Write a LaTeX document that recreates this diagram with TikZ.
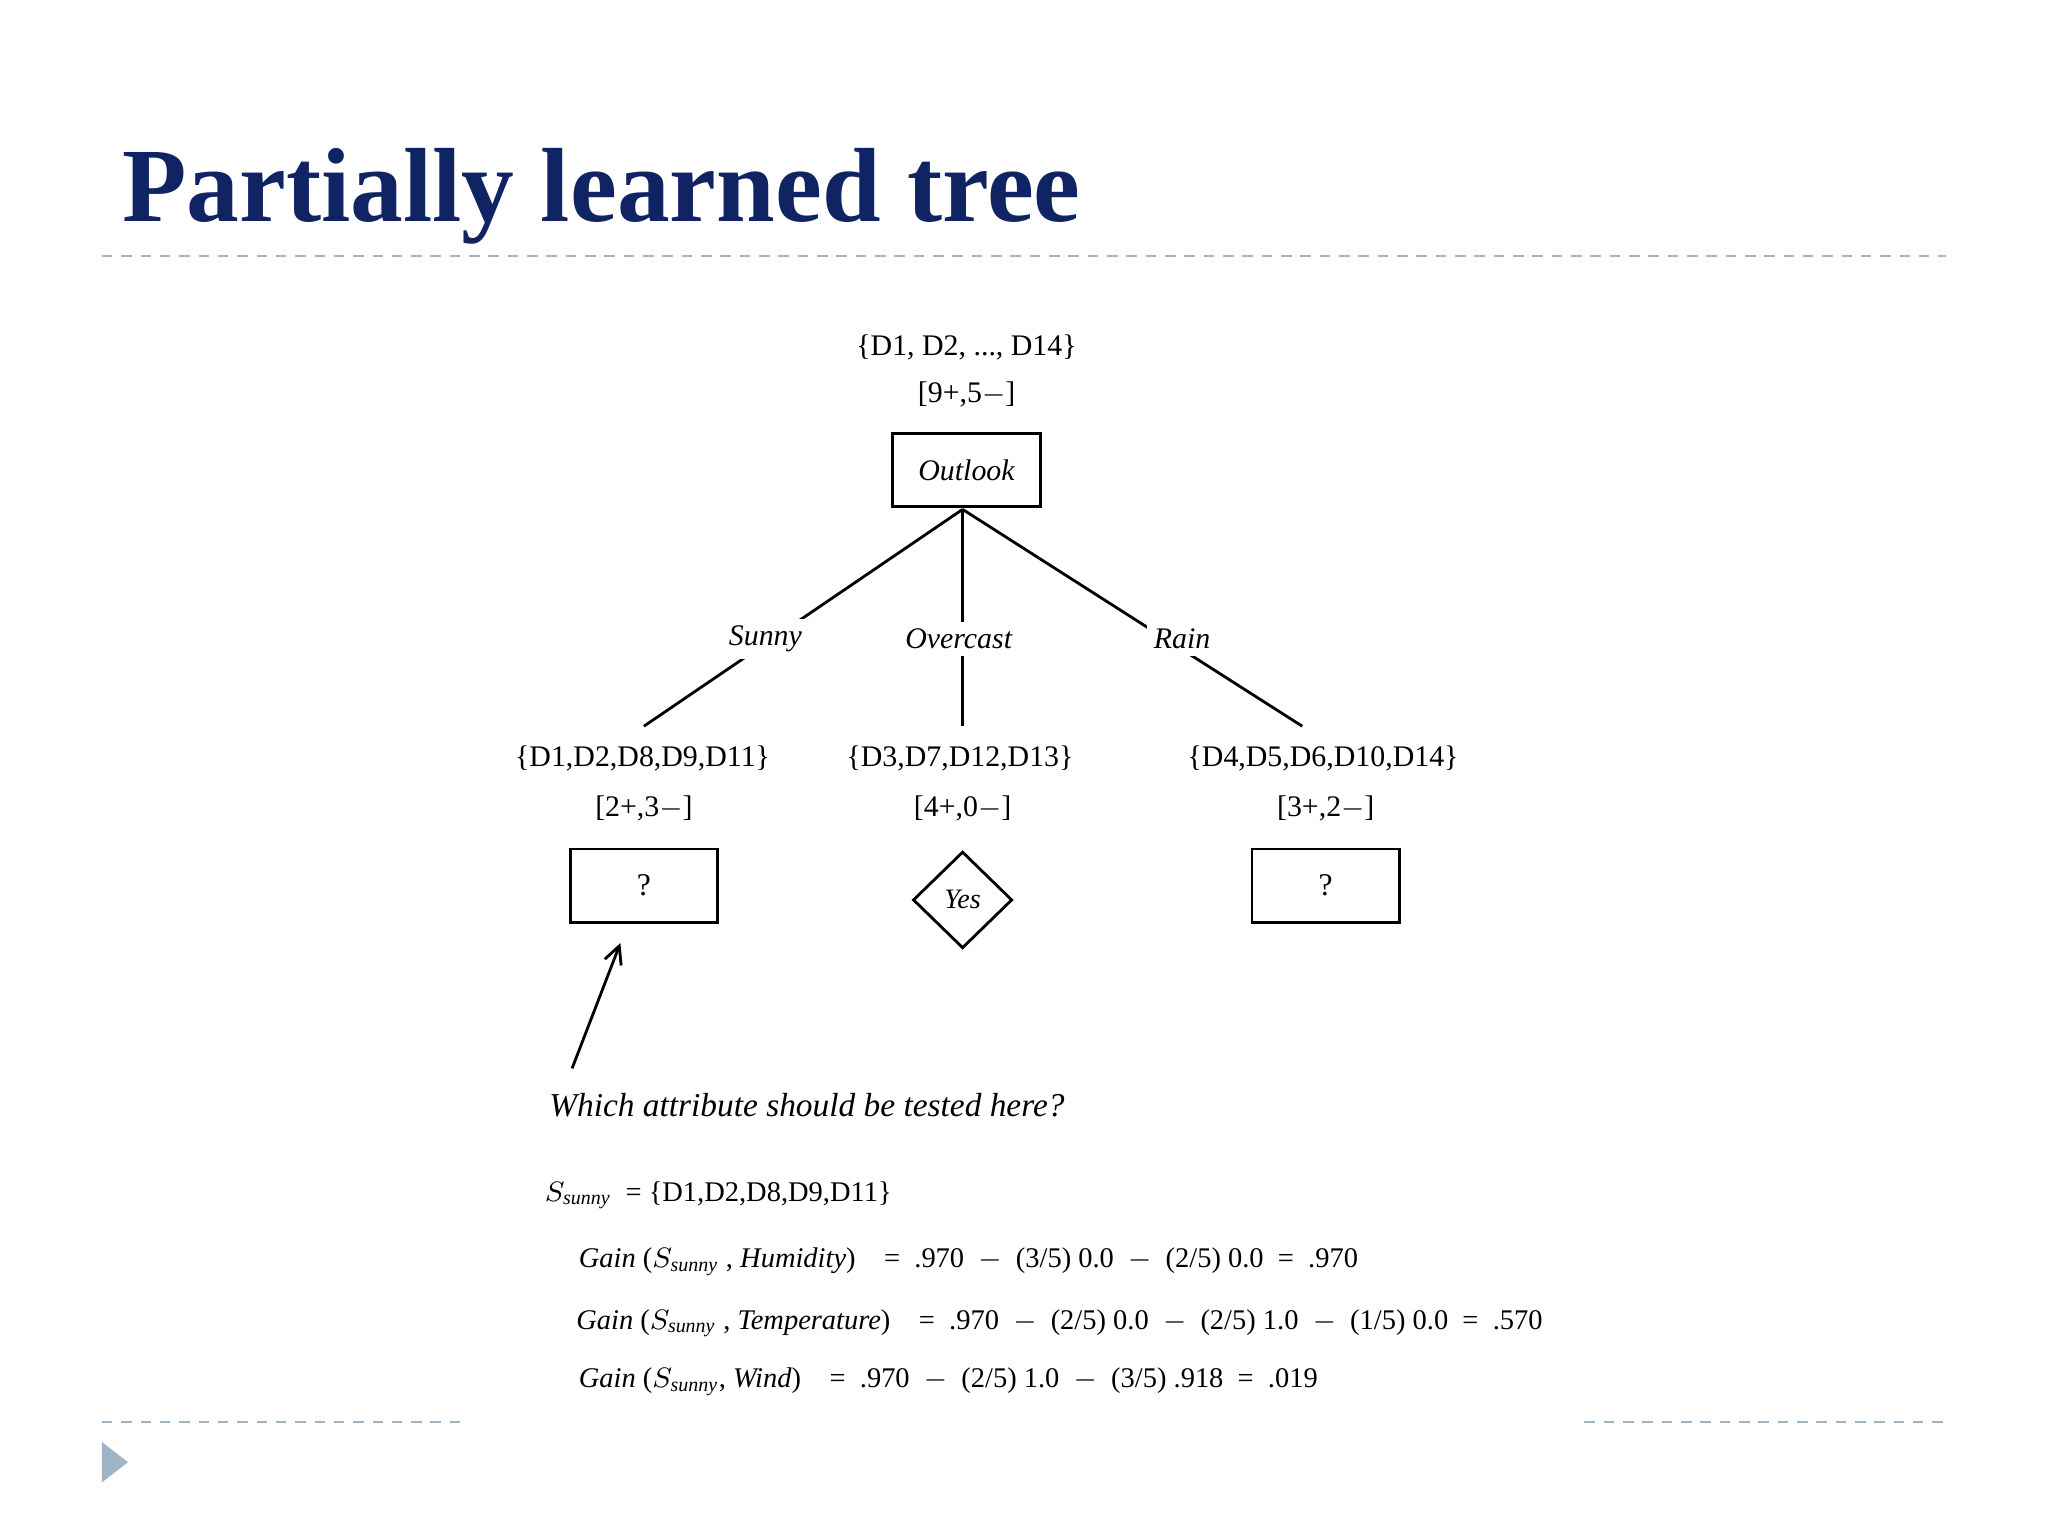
\documentclass[tikz,border=0pt]{standalone}
\usepackage{fontspec}
\setmainfont{Liberation Serif}
\usetikzlibrary{shapes.geometric,arrows.meta}
\definecolor{navy}{RGB}{16,36,100}
\definecolor{dashc}{RGB}{160,180,200}
\begin{document}
\begin{tikzpicture}[x=0.01306cm,y=-0.01306cm,
  txt/.style={font=\fontsize{8.5}{10}\selectfont, inner sep=1pt},
  ftx/.style={font=\fontsize{8.1}{10}\selectfont, inner sep=1pt},
  itx/.style={font=\fontsize{8.5}{10}\selectfont\itshape, inner sep=1pt},
  box/.style={draw, line width=0.8pt, minimum width=113*0.01306cm, minimum height=56*0.01306cm, inner sep=0pt},
  edge/.style={line width=0.8pt},
  lbl/.style={itx, fill=white, inner sep=2pt},
  sep/.style={dashc, line width=0.6pt, dash pattern=on 3pt off 2.5pt}]
\useasboundingbox (0,0) rectangle (1568,1176);
\node[anchor=west, font=\fontsize{30}{36}\selectfont\bfseries, text=navy, inner sep=0] (title) at (93,150) {Partially learned tree};
\draw[sep] (78,196) -- (1490,196);
\draw[sep] (78,1089) -- (355,1089);
\draw[sep] (1213,1089) -- (1490,1089);
\fill[dashc] (78,1104) -- (98,1119.5) -- (78,1135) -- cycle;

\node[txt] (rs) at (740,266) {\{D1, D2, ..., D14\}};
\node[txt] (rc) at (740,302) {[9+,5$-$]};
\node[box, font=\fontsize{8.5}{10}\selectfont\itshape] (out) at (740,360) {Outlook};
\coordinate (top) at (737,390);
\coordinate (ls) at (493,556);
\coordinate (lo) at (737,556);
\coordinate (lr) at (997,556);
\draw[edge] (top) -- (ls);
\draw[edge] (top) -- (lo);
\draw[edge] (top) -- (lr);
\node[lbl] (sun) at (586,489) {Sunny};
\node[lbl] (ovc) at (734,489) {Overcast};
\node[lbl] (rain) at (905,489) {Rain};

\node[txt] (s1) at (492,581) {\{D1,D2,D8,D9,D11\}};
\node[txt] (c1) at (493,619) {[2+,3$-$]};
\node[txt] (s2) at (735,581) {\{D3,D7,D12,D13\}};
\node[txt] (c2) at (737,619) {[4+,0$-$]};
\node[txt] (s3) at (1013,581) {\{D4,D5,D6,D10,D14\}};
\node[txt] (c3) at (1015,619) {[3+,2$-$]};

\node[box, font=\fontsize{9}{10}\selectfont] (q1) at (493,678) {?};
\node[box, font=\fontsize{9}{10}\selectfont] (q3) at (1015,678) {?};
\node[draw, line width=0.8pt, diamond, minimum width=76*0.01306cm, minimum height=74*0.01306cm, inner sep=0pt, font=\fontsize{8}{10}\selectfont\itshape] (yes) at (737,689) {Yes};

\coordinate (af) at (438,818);
\coordinate (at) at (475,722);
\draw[edge, -{Straight Barb[length=5pt,width=5pt]}] (af) -- (at);
\node[anchor=west, font=\fontsize{9.5}{11}\selectfont\itshape, inner sep=0] (q) at (420,846) {Which attribute should be tested here?};

\node[anchor=west, ftx] (ss) at (414,915) {$S_{\mathit{sunny}}$\enspace = \{D1,D2,D8,D9,D11\}};
\node[anchor=west, ftx] (g1) at (440,966) {\textit{Gain} ($S_{\mathit{sunny}}$ , \textit{Humidity})\quad = \ .970 \ $-$ \ (3/5) 0.0 \ $-$ \ (2/5) 0.0 \ = \ .970};
\node[anchor=west, ftx] (g2) at (438,1013) {\textit{Gain} ($S_{\mathit{sunny}}$ , \textit{Temperature})\quad = \ .970 \ $-$ \ (2/5) 0.0 \ $-$ \ (2/5) 1.0 \ $-$ \ (1/5) 0.0 \ = \ .570};
\node[anchor=west, ftx] (g3) at (440,1058) {\textit{Gain} ($S_{\mathit{sunny}}$, \textit{Wind})\quad = \ .970 \ $-$ \ (2/5) 1.0 \ $-$ \ (3/5) .918 \ = \ .019};
\end{tikzpicture}
\end{document}
